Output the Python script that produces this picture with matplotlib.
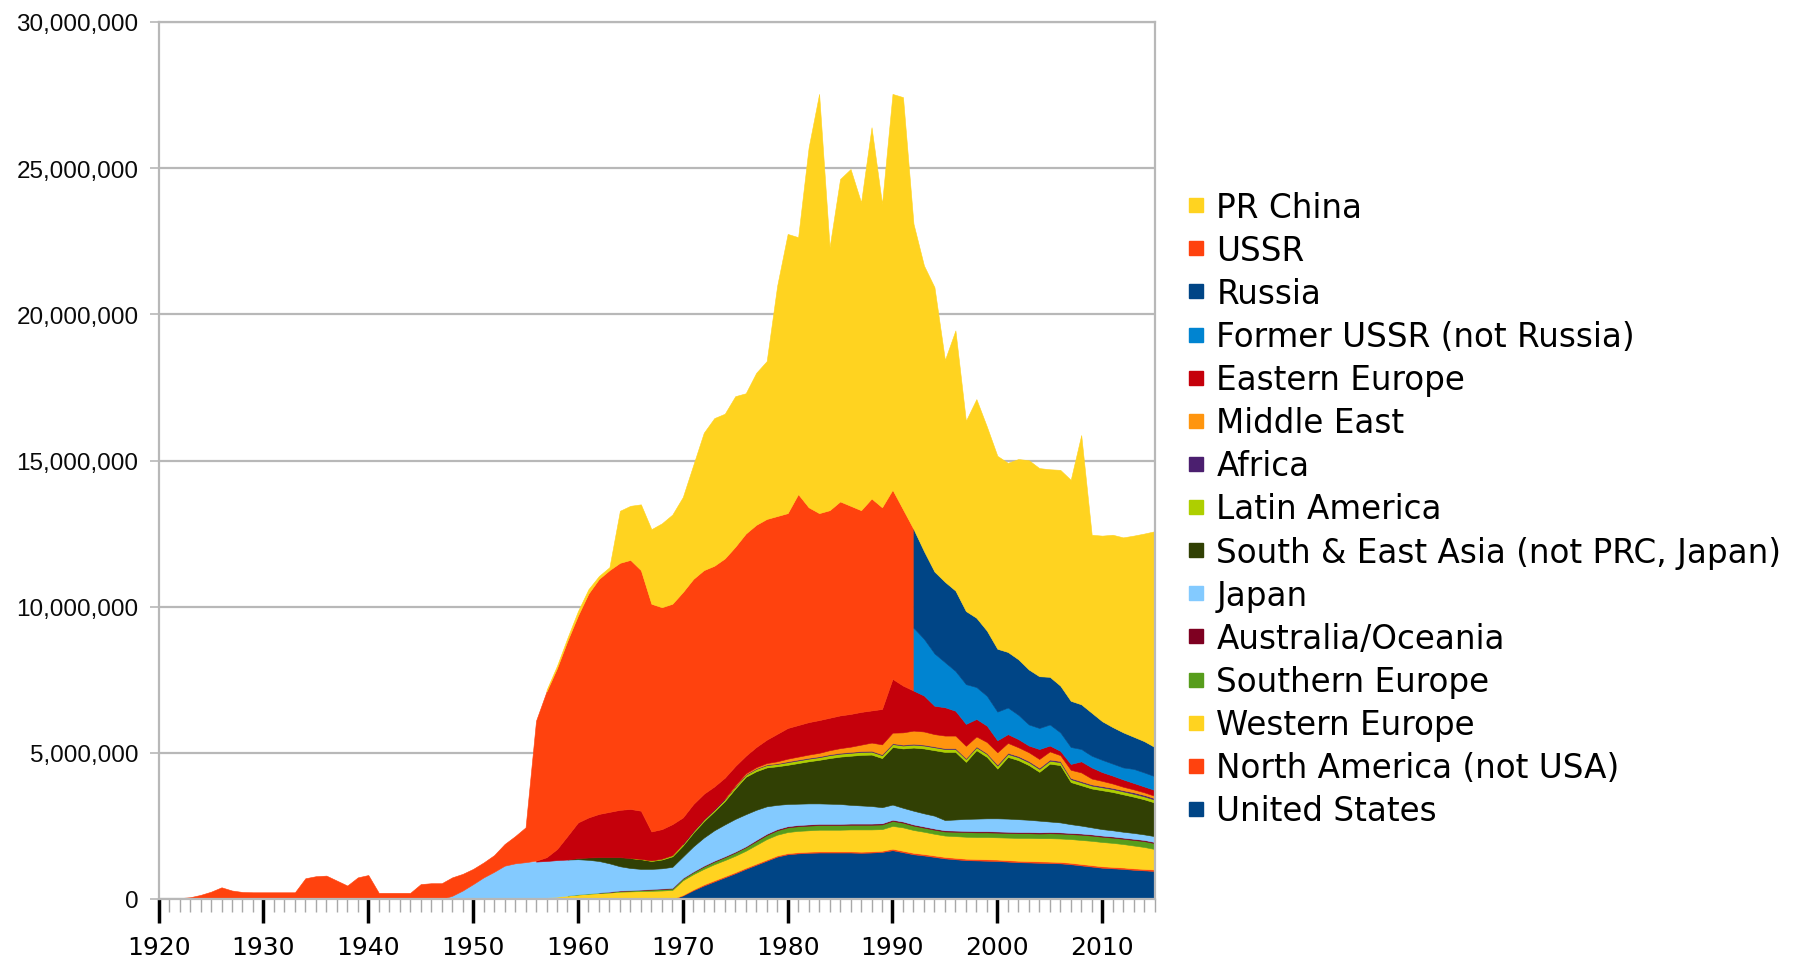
import numpy as np
import matplotlib
matplotlib.use("Agg")
import matplotlib.pyplot as plt
from matplotlib.lines import Line2D
from matplotlib.ticker import MultipleLocator, FuncFormatter
from matplotlib import font_manager

MILLION = 1_000_000
years = np.arange(1920, 2016)

# each series: first year it appears, then one value per year (millions)
us_start = 1969
us = [0, 0.12, 0.30, 0.46, 0.60, 0.74, 0.88, 1.03, 1.17, 1.31,
      1.45, 1.53, 1.56, 1.58, 1.59, 1.59, 1.59, 1.59, 1.58, 1.59,
      1.61, 1.67, 1.60, 1.53, 1.49, 1.44, 1.39, 1.36, 1.33, 1.32,
      1.31, 1.30, 1.28, 1.26, 1.25, 1.24, 1.23, 1.22, 1.19, 1.15,
      1.11, 1.07, 1.05, 1.03, 1.00, 0.98, 0.96]

north_america_start = 1969
north_america = [0, 0.02, 0.03,
                 0.04, 0.04, 0.04, 0.04, 0.04, 0.04, 0.04, 0.04, 0.04,
                 0.04, 0.04, 0.04, 0.04, 0.04, 0.04, 0.04, 0.04, 0.04,
                 0.05, 0.05, 0.05, 0.05, 0.05, 0.05, 0.05, 0.05, 0.05, 0.05,
                 0.05, 0.05, 0.05, 0.05, 0.05, 0.05, 0.05, 0.05, 0.05, 0.05,
                 0.05, 0.05, 0.05, 0.05, 0.05, 0.05]

western_europe_start = 1955
western_europe = [0, 0.02, 0.05, 0.08, 0.12, 0.15, 0.18, 0.20, 0.22, 0.25,
                  0.26, 0.27, 0.28, 0.29, 0.31, 0.50, 0.52, 0.53, 0.55, 0.55,
                  0.56, 0.58, 0.64, 0.70, 0.71, 0.72, 0.73, 0.73, 0.74, 0.74,
                  0.74, 0.75, 0.76, 0.75, 0.74, 0.78, 0.80, 0.78, 0.76, 0.74,
                  0.73, 0.74, 0.75, 0.75, 0.76, 0.76, 0.77, 0.78, 0.79, 0.79,
                  0.80, 0.80, 0.81, 0.82, 0.83, 0.83, 0.82, 0.80, 0.78, 0.75,
                  0.70]

southern_europe_start = 1959
southern_europe = [0, 0.01, 0.01, 0.02, 0.02, 0.03, 0.03, 0.04, 0.04, 0.05,
                   0.05, 0.06, 0.07, 0.08, 0.09, 0.10, 0.11, 0.12, 0.13, 0.14,
                   0.15, 0.16, 0.16, 0.16, 0.16, 0.16, 0.16, 0.16, 0.16, 0.16,
                   0.16, 0.17, 0.16, 0.15, 0.14, 0.14, 0.14, 0.15, 0.16, 0.16,
                   0.16, 0.16, 0.16, 0.16, 0.16, 0.16, 0.17, 0.17, 0.17, 0.18,
                   0.18, 0.18, 0.18, 0.18, 0.19, 0.20, 0.20]

australia_start = 1962
australia = [0, 0.01, 0.01, 0.01, 0.01, 0.02, 0.02, 0.02, 0.02, 0.02,
             0.03, 0.03, 0.03, 0.03, 0.03,
             0.04, 0.04, 0.04, 0.04, 0.04, 0.04, 0.04, 0.04, 0.04, 0.04,
             0.04, 0.04, 0.04, 0.04, 0.04, 0.04, 0.04, 0.04, 0.04, 0.04,
             0.04, 0.04, 0.04, 0.04, 0.04, 0.04, 0.04, 0.04, 0.04, 0.04,
             0.04, 0.04, 0.04, 0.04, 0.04, 0.04, 0.04, 0.04, 0.04]

japan_start = 1947
japan = [0, 0.11, 0.29, 0.51, 0.74, 0.93, 1.14, 1.22, 1.26, 1.26,
         1.25, 1.25, 1.23, 1.20, 1.15, 1.08, 0.97, 0.83, 0.76, 0.71,
         0.69, 0.69, 0.72, 0.73, 0.86, 0.96, 1.04, 1.09, 1.12, 1.10,
         1.03, 0.94, 0.83, 0.76, 0.73, 0.72, 0.70, 0.69, 0.68, 0.64,
         0.62, 0.60, 0.55, 0.52, 0.47, 0.47, 0.45, 0.44, 0.35, 0.38,
         0.41, 0.43, 0.44, 0.45, 0.45, 0.44, 0.42, 0.40, 0.36, 0.34,
         0.30, 0.27, 0.24, 0.22, 0.21, 0.20, 0.20, 0.19, 0.20]

south_east_asia_start = 1959
south_east_asia = [0, 0.04, 0.08, 0.13, 0.21, 0.31, 0.34, 0.33, 0.27, 0.30,
                   0.36, 0.38, 0.47, 0.56, 0.65, 0.80, 1.04, 1.28, 1.32, 1.33,
                   1.32, 1.34, 1.39, 1.44, 1.49, 1.56, 1.62, 1.68, 1.73, 1.76,
                   1.68, 1.97, 2.03, 2.16, 2.22, 2.24, 2.33, 2.31, 1.95, 2.34,
                   2.10, 1.70, 2.11, 2.02, 1.87, 1.67, 1.98, 1.96, 1.44, 1.38,
                   1.33, 1.33, 1.31, 1.28, 1.24, 1.20, 1.15]

latin_america_start = 1965
latin_america = [0, 0.01, 0.02, 0.03, 0.04, 0.05, 0.05, 0.06, 0.06, 0.07,
                 0.07, 0.07, 0.08, 0.08, 0.08, 0.09, 0.09, 0.09, 0.09, 0.10,
                 0.10, 0.10, 0.10, 0.10, 0.10, 0.10, 0.10, 0.10, 0.10, 0.10,
                 0.10, 0.10, 0.10, 0.10, 0.10, 0.10, 0.10, 0.10, 0.10, 0.10,
                 0.10, 0.10, 0.10, 0.10, 0.10, 0.10, 0.10, 0.10, 0.10, 0.10,
                 0.10]

africa_start = 1970
africa = [0.01, 0.01, 0.01, 0.01, 0.01, 0.02, 0.02, 0.02, 0.02, 0.02,
          0.03, 0.03, 0.03, 0.03, 0.03, 0.03, 0.03, 0.03, 0.03, 0.03,
          0.03, 0.03, 0.03, 0.03, 0.03, 0.03, 0.03, 0.03, 0.03, 0.03,
          0.04, 0.04, 0.04, 0.04, 0.04, 0.04, 0.04, 0.04, 0.04, 0.04,
          0.04, 0.04, 0.04, 0.05, 0.05, 0.05]

middle_east_start = 1974
middle_east = [0.01, 0.02, 0.03, 0.04, 0.05, 0.07, 0.09, 0.10, 0.11, 0.12,
               0.14, 0.16, 0.18, 0.22, 0.28, 0.34, 0.36, 0.42, 0.45, 0.45,
               0.42, 0.43, 0.43, 0.42, 0.34, 0.38, 0.42, 0.34, 0.30, 0.30,
               0.30, 0.28, 0.20, 0.28, 0.30, 0.20, 0.18, 0.15, 0.12, 0.10,
               0.09, 0.08]

eastern_europe_start = 1956
eastern_europe = [0.03, 0.13, 0.38, 0.81, 1.22, 1.37, 1.48, 1.55, 1.62, 1.68,
                  1.65, 0.99, 1.01, 1.06, 0.90, 0.92, 0.87, 0.78, 0.71, 0.66,
                  0.60, 0.69, 0.80, 0.94, 1.05, 1.08, 1.11, 1.12, 1.11, 1.12,
                  1.12, 1.12, 1.10, 1.21, 1.84, 1.60, 1.37, 1.23, 0.97, 0.97,
                  0.85, 0.75, 0.60, 0.56, 0.41, 0.30, 0.28, 0.23, 0.34, 0.20,
                  0.15, 0.20, 0.38, 0.38, 0.30, 0.27, 0.25, 0.22, 0.20, 0.20]

# USSR runs 1920-1992, its successors take over from 1992
ussr = [0.02, 0.02, 0.03, 0.06, 0.14, 0.25, 0.40, 0.29, 0.24, 0.23,
        0.23, 0.23, 0.23, 0.23, 0.71, 0.78, 0.80, 0.63, 0.46, 0.74,
        0.82, 0.21, 0.21, 0.21, 0.21, 0.51, 0.54, 0.54, 0.63, 0.57,
        0.52, 0.51, 0.57, 0.74, 0.93, 1.19, 4.79, 5.67, 6.19, 6.68,
        7.08, 7.66, 8.04, 8.27, 8.45, 8.52, 8.23, 7.79, 7.59, 7.54,
        7.71, 7.70, 7.65, 7.55, 7.50, 7.50, 7.60, 7.60, 7.55, 7.45,
        7.35, 7.90, 7.35, 7.08, 7.10, 7.32, 7.12, 6.90, 7.25, 6.90,
        6.47, 6.03, 5.53]

split_year = 1992
former_ussr = [2.15, 1.94, 1.79, 1.54, 1.36, 1.36, 1.09, 1.02, 0.98, 0.91,
               0.83, 0.72, 0.72, 0.72, 0.63, 0.58, 0.42, 0.40, 0.42, 0.41,
               0.41, 0.48, 0.48, 0.47]
russia = [3.38, 3.00, 2.80, 2.75, 2.75, 2.50, 2.37, 2.23, 2.15, 1.90,
          1.90, 1.88, 1.77, 1.63, 1.60, 1.58, 1.53, 1.47, 1.32, 1.25,
          1.20, 1.10, 1.07, 1.00]

china_start = 1957
china = [0.05, 0.08, 0.10, 0.15, 0.15, 0.10, 0.10, 1.78, 1.85, 2.25,
         2.55, 2.87, 3.05, 3.25, 3.90, 4.70, 5.05, 4.95, 5.15, 4.80,
         5.20, 5.40, 7.88, 9.55, 8.79, 12.31, 14.34, 9.00, 11.03, 11.52,
         10.53, 12.70, 10.38, 13.54, 14.10, 10.44, 9.77, 9.73, 7.59, 8.90,
         6.51, 7.48, 6.98, 6.60, 6.47, 6.85, 7.16, 7.12, 7.10, 7.38,
         7.56, 9.21, 6.09, 6.35, 6.58, 6.67, 6.88, 7.10, 7.38]

BLUE, ORANGE, YELLOW = "#004586", "#ff420e", "#ffd320"


def padded(start, values):
    arr = np.zeros(len(years))
    i = start - years[0]
    arr[i:i + len(values)] = values
    return arr * MILLION


# bottom of the stack first
lower = [
    ("United States", us_start, us, BLUE),
    ("North America (not USA)", north_america_start, north_america, ORANGE),
    ("Western Europe", western_europe_start, western_europe, YELLOW),
    ("Southern Europe", southern_europe_start, southern_europe, "#579d1c"),
    ("Australia/Oceania", australia_start, australia, "#7e0021"),
    ("Japan", japan_start, japan, "#83caff"),
    ("South & East Asia (not PRC, Japan)", south_east_asia_start, south_east_asia, "#314004"),
    ("Latin America", latin_america_start, latin_america, "#aecf00"),
    ("Africa", africa_start, africa, "#4b1f6f"),
    ("Middle East", middle_east_start, middle_east, "#ff950e"),
    ("Eastern Europe", eastern_europe_start, eastern_europe, "#c5000b"),
]

fig = plt.figure(figsize=(18.16, 9.62), dpi=100)
ax = fig.add_axes([158.6 / 1816, 62 / 962, 996 / 1816, 877 / 962])


def band(lo, hi, start, stop, color):
    i, j = start - years[0], stop - years[0] + 1
    ax.fill_between(years[i:j], lo[i:j], hi[i:j], facecolor=color,
                    edgecolor=color, linewidth=0.4, zorder=2)


base = np.zeros(len(years))
for name, start, vals, color in lower:
    top = base + padded(start, vals)
    band(base, top, start, 2015, color)
    base = top

ussr_full = padded(1920, ussr)
fsu_full = padded(split_year, former_ussr)
russia_full = padded(split_year, russia)

band(base, base + ussr_full, 1920, split_year, ORANGE)
band(base, base + fsu_full, split_year, 2015, "#0084d1")
band(base + fsu_full, base + fsu_full + russia_full, split_year, 2015, BLUE)

soviet_top = base + np.where(years <= split_year, ussr_full, fsu_full + russia_full)
band(soviet_top, soviet_top + padded(china_start, china), china_start, 2015, YELLOW)

# axes styling
grey = "#b8b8b8"
ax.set_xlim(1920, 2015)
ax.set_ylim(0, 30 * MILLION)
ax.yaxis.set_major_locator(MultipleLocator(5 * MILLION))
ax.yaxis.set_major_formatter(FuncFormatter(lambda v, p: f"{int(round(v)):,}"))
ax.xaxis.set_major_locator(MultipleLocator(10))
ax.xaxis.set_minor_locator(MultipleLocator(1))
ax.grid(axis="y", color=grey, linewidth=1.6, zorder=0)
ax.set_axisbelow(True)
for side in ("left", "right", "top", "bottom"):
    ax.spines[side].set_color(grey)
    ax.spines[side].set_linewidth(1.6)

installed = {f.name for f in font_manager.fontManager.ttflist}
if "Liberation Sans Narrow" in installed:
    yfont, ysize = "Liberation Sans Narrow", 21
else:
    yfont, ysize = "Liberation Sans", 17.5

ax.tick_params(axis="y", length=6.5, width=1.2, color=grey, pad=8,
               labelsize=ysize, labelcolor="#0a0a0a")
for lab in ax.get_yticklabels():
    lab.set_family(yfont)
ax.tick_params(axis="x", which="major", length=17, width=2.5, color="black",
               pad=9, labelsize=18)
ax.tick_params(axis="x", which="minor", length=9, width=1.0, color="#a8a8a8")

# legend, top entry is the top of the stack
entries = [("PR China", YELLOW), ("USSR", ORANGE), ("Russia", BLUE),
           ("Former USSR (not Russia)", "#0084d1")]
entries += [(name, color) for name, _, _, color in reversed(lower)]
handles = [Line2D([], [], ls="none", marker="s", markersize=10,
                  markerfacecolor=c, markeredgecolor=c) for _, c in entries]
fig.legend(handles, [n for n, _ in entries], loc="center left",
           bbox_to_anchor=(1188.6 / 1816, 1 - 510 / 962), frameon=False,
           fontsize=23.5, handlelength=0.45, handletextpad=0.4,
           labelspacing=0.31, borderpad=0, borderaxespad=0)

fig.savefig("out.png", dpi=100)
